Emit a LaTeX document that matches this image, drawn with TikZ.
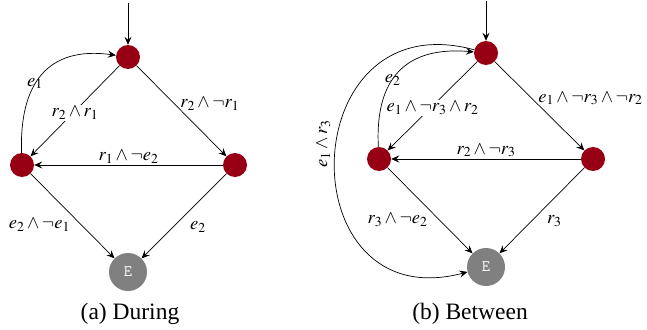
\documentclass[tikz,border=0pt]{standalone}
\usepackage{mathptmx}
\usepackage{fontspec}
\setmainfont{Liberation Serif}
\usetikzlibrary{arrows.meta}
\definecolor{statered}{HTML}{970014}
\definecolor{endgray}{HTML}{808080}
\tikzset{
  st/.style={circle, fill=statered, minimum size=24pt, inner sep=0pt},
  endst/.style={circle, fill=endgray, minimum size=38pt, inner sep=0pt, text=white, font=\fontsize{16}{18}\selectfont\ttfamily},
  tr/.style={draw=black, line width=0.7pt, -{Stealth[length=8pt, width=7pt, inset=3pt]}},
  lbl/.style={font=\fontsize{18.5}{21}\selectfont, inner sep=1.5pt},
  onl/.style={lbl, fill=white},
  captext/.style={font=\fontsize{23.5}{26}\selectfont}
}
\begin{document}
\begin{tikzpicture}[x=1pt, y=-1pt]
\useasboundingbox (0,0) rectangle (647,329);
% ---- (a) During
\node[st] (at) at (128,57) {};
\node[st] (al) at (22,165) {};
\node[st] (ar) at (235,165) {};
\node[endst] (aE) at (128,272) {E};
\coordinate (ai) at (128,3);
\draw[tr] (ai) -- (at);
\draw[tr] (at) -- node[onl, pos=0.5, yshift=-2pt] {$r_2\wedge r_1$} (al);
\draw[tr] (at) -- node[lbl, pos=0.5, anchor=south west, xshift=-3pt, yshift=-1pt] {$r_2\wedge\neg r_1$} (ar);
\draw[tr] (ar) -- node[lbl, pos=0.5, above] {$r_1\wedge\neg e_2$} (al);
\draw[tr] (al) to[out=92, in=172, looseness=1.3] node[lbl, pos=0.42, anchor=east, xshift=9pt, yshift=0pt] {$e_1$} (at);
\draw[tr] (al) -- node[lbl, pos=0.55, anchor=east, xshift=-5pt, yshift=-5pt] {$e_2\wedge\neg e_1$} (aE);
\draw[tr] (ar) -- node[lbl, pos=0.58, anchor=west, xshift=11pt, yshift=-4pt] {$e_2$} (aE);
\node[captext] (capa) at (130,314) {(a) During};
% ---- (b) Between
\node[st] (bt) at (486,53) {};
\node[st] (bl) at (379,159) {};
\node[st] (br) at (593,159) {};
\node[endst] (bE) at (486,267) {E};
\coordinate (bi) at (486,1);
\draw[tr] (bi) -- (bt);
\draw[tr] (bt) -- node[onl, pos=0.5, yshift=-2pt] {$e_1\wedge\neg r_3\wedge r_2$} (bl);
\draw[tr] (bt) -- node[lbl, pos=0.5, anchor=south west, xshift=-3pt, yshift=-1pt] {$e_1\wedge\neg r_3\wedge\neg r_2$} (br);
\draw[tr] (br) -- node[lbl, pos=0.5, above] {$r_2\wedge\neg r_3$} (bl);
\draw[tr] (bl) to[out=93, in=175, looseness=1.3] node[lbl, pos=0.42, anchor=east, xshift=10pt, yshift=0pt] {$e_2$} (bt);
\draw[tr] (bt) .. controls (292,0) and (287,320) .. node[lbl, pos=0.46, rotate=90, anchor=south, yshift=4pt] {$e_1\wedge r_3$} (bE);
\draw[tr] (bl) -- node[lbl, pos=0.55, anchor=east, xshift=-5pt, yshift=-5pt] {$r_3\wedge\neg e_2$} (bE);
\draw[tr] (br) -- node[lbl, pos=0.58, anchor=west, xshift=10pt, yshift=-4pt] {$r_3$} (bE);
\node[captext] (capb) at (470,314) {(b) Between};
\end{tikzpicture}
\end{document}
